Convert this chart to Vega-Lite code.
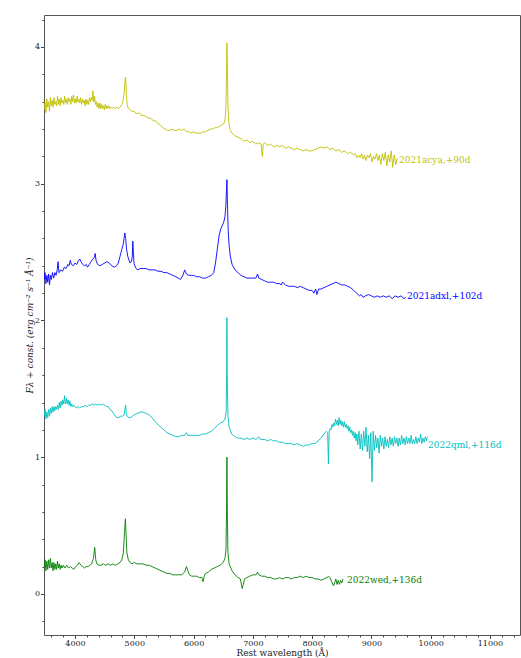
{
  "$schema": "https://vega.github.io/schema/vega-lite/v6.json",
  "autosize": {"type": "none"},
  "width": 476,
  "height": 620,
  "padding": {"left": 44, "top": 15, "right": 1, "bottom": 23},
  "background": "white",
  "config": {
    "view": {"stroke": "#555", "strokeWidth": 1},
    "axis": {"labelFont": "DejaVu Serif", "titleFont": "DejaVu Serif", "labelColor": "#222", "titleColor": "#222", "tickColor": "#444", "domain": false, "grid": false, "labelFontSize": 8, "titleFontSize": 9, "titleFontWeight": "normal"}
  },
  "datasets": {
    "labels": [
      {"s": "2021acya,+90d", "w": 9466, "f": 3.17},
      {"s": "2021adxl,+102d", "w": 9601, "f": 2.18},
      {"s": "2022qml,+116d", "w": 9955, "f": 1.09},
      {"s": "2022wed,+136d", "w": 8589, "f": 0.10}
    ],
    "spec": [
      {"s":"2021acya,+90d","w":3480,"f":3.54},{"s":"2021acya,+90d","w":3495,"f":3.60},{"s":"2021acya,+90d","w":3510,"f":3.52},{"s":"2021acya,+90d","w":3525,"f":3.62},{"s":"2021acya,+90d","w":3540,"f":3.56},{"s":"2021acya,+90d","w":3555,"f":3.60},{"s":"2021acya,+90d","w":3570,"f":3.53},{"s":"2021acya,+90d","w":3585,"f":3.63},{"s":"2021acya,+90d","w":3600,"f":3.57},{"s":"2021acya,+90d","w":3615,"f":3.61},{"s":"2021acya,+90d","w":3630,"f":3.56},{"s":"2021acya,+90d","w":3645,"f":3.63},{"s":"2021acya,+90d","w":3660,"f":3.58},{"s":"2021acya,+90d","w":3675,"f":3.60},{"s":"2021acya,+90d","w":3690,"f":3.57},{"s":"2021acya,+90d","w":3705,"f":3.64},{"s":"2021acya,+90d","w":3720,"f":3.58},{"s":"2021acya,+90d","w":3735,"f":3.62},{"s":"2021acya,+90d","w":3750,"f":3.57},{"s":"2021acya,+90d","w":3765,"f":3.63},{"s":"2021acya,+90d","w":3780,"f":3.59},{"s":"2021acya,+90d","w":3795,"f":3.61},{"s":"2021acya,+90d","w":3810,"f":3.58},{"s":"2021acya,+90d","w":3825,"f":3.64},{"s":"2021acya,+90d","w":3840,"f":3.59},{"s":"2021acya,+90d","w":3855,"f":3.62},{"s":"2021acya,+90d","w":3870,"f":3.58},{"s":"2021acya,+90d","w":3885,"f":3.63},{"s":"2021acya,+90d","w":3900,"f":3.60},{"s":"2021acya,+90d","w":3915,"f":3.62},{"s":"2021acya,+90d","w":3930,"f":3.58},{"s":"2021acya,+90d","w":3945,"f":3.64},{"s":"2021acya,+90d","w":3960,"f":3.60},{"s":"2021acya,+90d","w":3975,"f":3.65},{"s":"2021acya,+90d","w":3990,"f":3.59},{"s":"2021acya,+90d","w":4005,"f":3.62},{"s":"2021acya,+90d","w":4020,"f":3.59},{"s":"2021acya,+90d","w":4035,"f":3.64},{"s":"2021acya,+90d","w":4050,"f":3.60},{"s":"2021acya,+90d","w":4065,"f":3.62},{"s":"2021acya,+90d","w":4080,"f":3.59},{"s":"2021acya,+90d","w":4095,"f":3.63},{"s":"2021acya,+90d","w":4110,"f":3.58},{"s":"2021acya,+90d","w":4125,"f":3.62},{"s":"2021acya,+90d","w":4140,"f":3.59},{"s":"2021acya,+90d","w":4155,"f":3.61},{"s":"2021acya,+90d","w":4170,"f":3.57},{"s":"2021acya,+90d","w":4185,"f":3.62},{"s":"2021acya,+90d","w":4200,"f":3.58},{"s":"2021acya,+90d","w":4215,"f":3.61},{"s":"2021acya,+90d","w":4230,"f":3.58},{"s":"2021acya,+90d","w":4245,"f":3.63},{"s":"2021acya,+90d","w":4260,"f":3.60},{"s":"2021acya,+90d","w":4275,"f":3.63},{"s":"2021acya,+90d","w":4290,"f":3.61},{"s":"2021acya,+90d","w":4302,"f":3.68},{"s":"2021acya,+90d","w":4315,"f":3.60},{"s":"2021acya,+90d","w":4330,"f":3.64},{"s":"2021acya,+90d","w":4345,"f":3.58},{"s":"2021acya,+90d","w":4360,"f":3.60},{"s":"2021acya,+90d","w":4375,"f":3.56},{"s":"2021acya,+90d","w":4390,"f":3.59},{"s":"2021acya,+90d","w":4405,"f":3.55},{"s":"2021acya,+90d","w":4420,"f":3.59},{"s":"2021acya,+90d","w":4435,"f":3.55},{"s":"2021acya,+90d","w":4450,"f":3.58},{"s":"2021acya,+90d","w":4465,"f":3.55},{"s":"2021acya,+90d","w":4480,"f":3.57},{"s":"2021acya,+90d","w":4495,"f":3.54},{"s":"2021acya,+90d","w":4510,"f":3.58},{"s":"2021acya,+90d","w":4525,"f":3.55},{"s":"2021acya,+90d","w":4540,"f":3.57},{"s":"2021acya,+90d","w":4555,"f":3.55},{"s":"2021acya,+90d","w":4570,"f":3.57},{"s":"2021acya,+90d","w":4590,"f":3.55},{"s":"2021acya,+90d","w":4610,"f":3.56},{"s":"2021acya,+90d","w":4630,"f":3.55},{"s":"2021acya,+90d","w":4650,"f":3.56},{"s":"2021acya,+90d","w":4670,"f":3.55},{"s":"2021acya,+90d","w":4700,"f":3.56},{"s":"2021acya,+90d","w":4730,"f":3.55},{"s":"2021acya,+90d","w":4760,"f":3.56},{"s":"2021acya,+90d","w":4790,"f":3.58},{"s":"2021acya,+90d","w":4810,"f":3.61},{"s":"2021acya,+90d","w":4830,"f":3.66},{"s":"2021acya,+90d","w":4845,"f":3.76},{"s":"2021acya,+90d","w":4855,"f":3.78},{"s":"2021acya,+90d","w":4865,"f":3.66},{"s":"2021acya,+90d","w":4880,"f":3.58},{"s":"2021acya,+90d","w":4900,"f":3.55},{"s":"2021acya,+90d","w":4930,"f":3.54},{"s":"2021acya,+90d","w":4960,"f":3.53},{"s":"2021acya,+90d","w":5000,"f":3.53},{"s":"2021acya,+90d","w":5040,"f":3.51},{"s":"2021acya,+90d","w":5080,"f":3.52},{"s":"2021acya,+90d","w":5120,"f":3.50},{"s":"2021acya,+90d","w":5160,"f":3.50},{"s":"2021acya,+90d","w":5200,"f":3.49},{"s":"2021acya,+90d","w":5240,"f":3.48},{"s":"2021acya,+90d","w":5280,"f":3.48},{"s":"2021acya,+90d","w":5320,"f":3.46},{"s":"2021acya,+90d","w":5360,"f":3.46},{"s":"2021acya,+90d","w":5400,"f":3.44},{"s":"2021acya,+90d","w":5440,"f":3.43},{"s":"2021acya,+90d","w":5480,"f":3.41},{"s":"2021acya,+90d","w":5520,"f":3.40},{"s":"2021acya,+90d","w":5560,"f":3.39},{"s":"2021acya,+90d","w":5600,"f":3.39},{"s":"2021acya,+90d","w":5640,"f":3.40},{"s":"2021acya,+90d","w":5680,"f":3.39},{"s":"2021acya,+90d","w":5720,"f":3.39},{"s":"2021acya,+90d","w":5760,"f":3.40},{"s":"2021acya,+90d","w":5800,"f":3.39},{"s":"2021acya,+90d","w":5840,"f":3.40},{"s":"2021acya,+90d","w":5880,"f":3.38},{"s":"2021acya,+90d","w":5920,"f":3.38},{"s":"2021acya,+90d","w":5960,"f":3.37},{"s":"2021acya,+90d","w":6000,"f":3.38},{"s":"2021acya,+90d","w":6040,"f":3.37},{"s":"2021acya,+90d","w":6080,"f":3.37},{"s":"2021acya,+90d","w":6120,"f":3.37},{"s":"2021acya,+90d","w":6160,"f":3.38},{"s":"2021acya,+90d","w":6200,"f":3.38},{"s":"2021acya,+90d","w":6240,"f":3.39},{"s":"2021acya,+90d","w":6280,"f":3.40},{"s":"2021acya,+90d","w":6320,"f":3.40},{"s":"2021acya,+90d","w":6360,"f":3.41},{"s":"2021acya,+90d","w":6400,"f":3.41},{"s":"2021acya,+90d","w":6440,"f":3.42},{"s":"2021acya,+90d","w":6480,"f":3.43},{"s":"2021acya,+90d","w":6510,"f":3.44},{"s":"2021acya,+90d","w":6530,"f":3.46},{"s":"2021acya,+90d","w":6545,"f":3.55},{"s":"2021acya,+90d","w":6555,"f":3.80},{"s":"2021acya,+90d","w":6563,"f":4.03},{"s":"2021acya,+90d","w":6570,"f":3.85},{"s":"2021acya,+90d","w":6580,"f":3.58},{"s":"2021acya,+90d","w":6595,"f":3.45},{"s":"2021acya,+90d","w":6620,"f":3.39},{"s":"2021acya,+90d","w":6650,"f":3.37},{"s":"2021acya,+90d","w":6700,"f":3.35},{"s":"2021acya,+90d","w":6750,"f":3.34},{"s":"2021acya,+90d","w":6800,"f":3.33},{"s":"2021acya,+90d","w":6850,"f":3.31},{"s":"2021acya,+90d","w":6900,"f":3.32},{"s":"2021acya,+90d","w":6950,"f":3.30},{"s":"2021acya,+90d","w":7000,"f":3.31},{"s":"2021acya,+90d","w":7050,"f":3.29},{"s":"2021acya,+90d","w":7100,"f":3.30},{"s":"2021acya,+90d","w":7140,"f":3.29},{"s":"2021acya,+90d","w":7160,"f":3.20},{"s":"2021acya,+90d","w":7175,"f":3.29},{"s":"2021acya,+90d","w":7200,"f":3.30},{"s":"2021acya,+90d","w":7250,"f":3.28},{"s":"2021acya,+90d","w":7300,"f":3.29},{"s":"2021acya,+90d","w":7350,"f":3.27},{"s":"2021acya,+90d","w":7400,"f":3.28},{"s":"2021acya,+90d","w":7450,"f":3.27},{"s":"2021acya,+90d","w":7500,"f":3.28},{"s":"2021acya,+90d","w":7550,"f":3.26},{"s":"2021acya,+90d","w":7600,"f":3.27},{"s":"2021acya,+90d","w":7650,"f":3.26},{"s":"2021acya,+90d","w":7700,"f":3.25},{"s":"2021acya,+90d","w":7750,"f":3.26},{"s":"2021acya,+90d","w":7800,"f":3.25},{"s":"2021acya,+90d","w":7850,"f":3.24},{"s":"2021acya,+90d","w":7900,"f":3.25},{"s":"2021acya,+90d","w":7950,"f":3.24},{"s":"2021acya,+90d","w":8000,"f":3.24},{"s":"2021acya,+90d","w":8050,"f":3.25},{"s":"2021acya,+90d","w":8100,"f":3.26},{"s":"2021acya,+90d","w":8150,"f":3.27},{"s":"2021acya,+90d","w":8200,"f":3.26},{"s":"2021acya,+90d","w":8250,"f":3.27},{"s":"2021acya,+90d","w":8300,"f":3.25},{"s":"2021acya,+90d","w":8350,"f":3.26},{"s":"2021acya,+90d","w":8400,"f":3.24},{"s":"2021acya,+90d","w":8450,"f":3.25},{"s":"2021acya,+90d","w":8500,"f":3.23},{"s":"2021acya,+90d","w":8550,"f":3.24},{"s":"2021acya,+90d","w":8600,"f":3.22},{"s":"2021acya,+90d","w":8650,"f":3.23},{"s":"2021acya,+90d","w":8700,"f":3.21},{"s":"2021acya,+90d","w":8730,"f":3.22},{"s":"2021acya,+90d","w":8760,"f":3.19},{"s":"2021acya,+90d","w":8785,"f":3.21},{"s":"2021acya,+90d","w":8810,"f":3.19},{"s":"2021acya,+90d","w":8835,"f":3.22},{"s":"2021acya,+90d","w":8860,"f":3.18},{"s":"2021acya,+90d","w":8885,"f":3.21},{"s":"2021acya,+90d","w":8910,"f":3.17},{"s":"2021acya,+90d","w":8935,"f":3.21},{"s":"2021acya,+90d","w":8960,"f":3.19},{"s":"2021acya,+90d","w":8985,"f":3.22},{"s":"2021acya,+90d","w":9010,"f":3.16},{"s":"2021acya,+90d","w":9035,"f":3.20},{"s":"2021acya,+90d","w":9060,"f":3.18},{"s":"2021acya,+90d","w":9085,"f":3.22},{"s":"2021acya,+90d","w":9110,"f":3.17},{"s":"2021acya,+90d","w":9135,"f":3.21},{"s":"2021acya,+90d","w":9160,"f":3.14},{"s":"2021acya,+90d","w":9185,"f":3.22},{"s":"2021acya,+90d","w":9210,"f":3.17},{"s":"2021acya,+90d","w":9235,"f":3.23},{"s":"2021acya,+90d","w":9260,"f":3.13},{"s":"2021acya,+90d","w":9285,"f":3.21},{"s":"2021acya,+90d","w":9310,"f":3.16},{"s":"2021acya,+90d","w":9335,"f":3.24},{"s":"2021acya,+90d","w":9360,"f":3.12},{"s":"2021acya,+90d","w":9385,"f":3.21},{"s":"2021acya,+90d","w":9410,"f":3.14},{"s":"2021acya,+90d","w":9440,"f":3.19},

      {"s":"2021adxl,+102d","w":3480,"f":2.30},{"s":"2021adxl,+102d","w":3495,"f":2.35},{"s":"2021adxl,+102d","w":3510,"f":2.27},{"s":"2021adxl,+102d","w":3525,"f":2.33},{"s":"2021adxl,+102d","w":3540,"f":2.28},{"s":"2021adxl,+102d","w":3555,"f":2.34},{"s":"2021adxl,+102d","w":3570,"f":2.26},{"s":"2021adxl,+102d","w":3585,"f":2.33},{"s":"2021adxl,+102d","w":3600,"f":2.30},{"s":"2021adxl,+102d","w":3620,"f":2.35},{"s":"2021adxl,+102d","w":3640,"f":2.31},{"s":"2021adxl,+102d","w":3660,"f":2.35},{"s":"2021adxl,+102d","w":3680,"f":2.33},{"s":"2021adxl,+102d","w":3700,"f":2.37},{"s":"2021adxl,+102d","w":3715,"f":2.43},{"s":"2021adxl,+102d","w":3730,"f":2.35},{"s":"2021adxl,+102d","w":3760,"f":2.37},{"s":"2021adxl,+102d","w":3790,"f":2.36},{"s":"2021adxl,+102d","w":3820,"f":2.39},{"s":"2021adxl,+102d","w":3850,"f":2.38},{"s":"2021adxl,+102d","w":3880,"f":2.41},{"s":"2021adxl,+102d","w":3900,"f":2.40},{"s":"2021adxl,+102d","w":3920,"f":2.44},{"s":"2021adxl,+102d","w":3940,"f":2.41},{"s":"2021adxl,+102d","w":3970,"f":2.40},{"s":"2021adxl,+102d","w":4000,"f":2.42},{"s":"2021adxl,+102d","w":4030,"f":2.41},{"s":"2021adxl,+102d","w":4060,"f":2.44},{"s":"2021adxl,+102d","w":4080,"f":2.45},{"s":"2021adxl,+102d","w":4100,"f":2.43},{"s":"2021adxl,+102d","w":4130,"f":2.41},{"s":"2021adxl,+102d","w":4160,"f":2.40},{"s":"2021adxl,+102d","w":4190,"f":2.41},{"s":"2021adxl,+102d","w":4210,"f":2.39},{"s":"2021adxl,+102d","w":4240,"f":2.41},{"s":"2021adxl,+102d","w":4270,"f":2.43},{"s":"2021adxl,+102d","w":4300,"f":2.45},{"s":"2021adxl,+102d","w":4325,"f":2.46},{"s":"2021adxl,+102d","w":4340,"f":2.49},{"s":"2021adxl,+102d","w":4355,"f":2.44},{"s":"2021adxl,+102d","w":4380,"f":2.41},{"s":"2021adxl,+102d","w":4420,"f":2.40},{"s":"2021adxl,+102d","w":4460,"f":2.41},{"s":"2021adxl,+102d","w":4500,"f":2.42},{"s":"2021adxl,+102d","w":4540,"f":2.43},{"s":"2021adxl,+102d","w":4580,"f":2.42},{"s":"2021adxl,+102d","w":4620,"f":2.40},{"s":"2021adxl,+102d","w":4660,"f":2.39},{"s":"2021adxl,+102d","w":4700,"f":2.40},{"s":"2021adxl,+102d","w":4730,"f":2.42},{"s":"2021adxl,+102d","w":4760,"f":2.47},{"s":"2021adxl,+102d","w":4790,"f":2.52},{"s":"2021adxl,+102d","w":4815,"f":2.56},{"s":"2021adxl,+102d","w":4840,"f":2.64},{"s":"2021adxl,+102d","w":4855,"f":2.60},{"s":"2021adxl,+102d","w":4870,"f":2.52},{"s":"2021adxl,+102d","w":4890,"f":2.47},{"s":"2021adxl,+102d","w":4910,"f":2.44},{"s":"2021adxl,+102d","w":4930,"f":2.42},{"s":"2021adxl,+102d","w":4950,"f":2.43},{"s":"2021adxl,+102d","w":4965,"f":2.46},{"s":"2021adxl,+102d","w":4975,"f":2.58},{"s":"2021adxl,+102d","w":4985,"f":2.50},{"s":"2021adxl,+102d","w":4995,"f":2.42},{"s":"2021adxl,+102d","w":5010,"f":2.40},{"s":"2021adxl,+102d","w":5030,"f":2.38},{"s":"2021adxl,+102d","w":5060,"f":2.37},{"s":"2021adxl,+102d","w":5100,"f":2.38},{"s":"2021adxl,+102d","w":5150,"f":2.38},{"s":"2021adxl,+102d","w":5200,"f":2.38},{"s":"2021adxl,+102d","w":5250,"f":2.37},{"s":"2021adxl,+102d","w":5300,"f":2.37},{"s":"2021adxl,+102d","w":5350,"f":2.37},{"s":"2021adxl,+102d","w":5400,"f":2.36},{"s":"2021adxl,+102d","w":5450,"f":2.36},{"s":"2021adxl,+102d","w":5500,"f":2.35},{"s":"2021adxl,+102d","w":5550,"f":2.35},{"s":"2021adxl,+102d","w":5600,"f":2.34},{"s":"2021adxl,+102d","w":5650,"f":2.33},{"s":"2021adxl,+102d","w":5700,"f":2.32},{"s":"2021adxl,+102d","w":5740,"f":2.31},{"s":"2021adxl,+102d","w":5780,"f":2.30},{"s":"2021adxl,+102d","w":5820,"f":2.33},{"s":"2021adxl,+102d","w":5850,"f":2.37},{"s":"2021adxl,+102d","w":5880,"f":2.34},{"s":"2021adxl,+102d","w":5920,"f":2.33},{"s":"2021adxl,+102d","w":5960,"f":2.33},{"s":"2021adxl,+102d","w":6000,"f":2.33},{"s":"2021adxl,+102d","w":6050,"f":2.32},{"s":"2021adxl,+102d","w":6100,"f":2.32},{"s":"2021adxl,+102d","w":6150,"f":2.31},{"s":"2021adxl,+102d","w":6200,"f":2.31},{"s":"2021adxl,+102d","w":6250,"f":2.32},{"s":"2021adxl,+102d","w":6300,"f":2.33},{"s":"2021adxl,+102d","w":6340,"f":2.35},{"s":"2021adxl,+102d","w":6370,"f":2.42},{"s":"2021adxl,+102d","w":6400,"f":2.52},{"s":"2021adxl,+102d","w":6430,"f":2.62},{"s":"2021adxl,+102d","w":6460,"f":2.67},{"s":"2021adxl,+102d","w":6490,"f":2.70},{"s":"2021adxl,+102d","w":6510,"f":2.72},{"s":"2021adxl,+102d","w":6530,"f":2.76},{"s":"2021adxl,+102d","w":6545,"f":2.84},{"s":"2021adxl,+102d","w":6555,"f":2.95},{"s":"2021adxl,+102d","w":6563,"f":3.03},{"s":"2021adxl,+102d","w":6572,"f":2.85},{"s":"2021adxl,+102d","w":6585,"f":2.65},{"s":"2021adxl,+102d","w":6600,"f":2.55},{"s":"2021adxl,+102d","w":6620,"f":2.47},{"s":"2021adxl,+102d","w":6650,"f":2.41},{"s":"2021adxl,+102d","w":6700,"f":2.37},{"s":"2021adxl,+102d","w":6750,"f":2.35},{"s":"2021adxl,+102d","w":6800,"f":2.33},{"s":"2021adxl,+102d","w":6850,"f":2.32},{"s":"2021adxl,+102d","w":6900,"f":2.31},{"s":"2021adxl,+102d","w":6950,"f":2.31},{"s":"2021adxl,+102d","w":7000,"f":2.31},{"s":"2021adxl,+102d","w":7050,"f":2.31},{"s":"2021adxl,+102d","w":7080,"f":2.34},{"s":"2021adxl,+102d","w":7100,"f":2.31},{"s":"2021adxl,+102d","w":7150,"f":2.30},{"s":"2021adxl,+102d","w":7200,"f":2.29},{"s":"2021adxl,+102d","w":7250,"f":2.28},{"s":"2021adxl,+102d","w":7300,"f":2.28},{"s":"2021adxl,+102d","w":7350,"f":2.28},{"s":"2021adxl,+102d","w":7400,"f":2.27},{"s":"2021adxl,+102d","w":7450,"f":2.27},{"s":"2021adxl,+102d","w":7480,"f":2.26},{"s":"2021adxl,+102d","w":7500,"f":2.28},{"s":"2021adxl,+102d","w":7550,"f":2.26},{"s":"2021adxl,+102d","w":7600,"f":2.25},{"s":"2021adxl,+102d","w":7650,"f":2.25},{"s":"2021adxl,+102d","w":7700,"f":2.25},{"s":"2021adxl,+102d","w":7750,"f":2.24},{"s":"2021adxl,+102d","w":7800,"f":2.25},{"s":"2021adxl,+102d","w":7850,"f":2.24},{"s":"2021adxl,+102d","w":7900,"f":2.23},{"s":"2021adxl,+102d","w":7950,"f":2.22},{"s":"2021adxl,+102d","w":8000,"f":2.22},{"s":"2021adxl,+102d","w":8030,"f":2.20},{"s":"2021adxl,+102d","w":8060,"f":2.23},{"s":"2021adxl,+102d","w":8080,"f":2.19},{"s":"2021adxl,+102d","w":8110,"f":2.23},{"s":"2021adxl,+102d","w":8150,"f":2.23},{"s":"2021adxl,+102d","w":8200,"f":2.24},{"s":"2021adxl,+102d","w":8250,"f":2.25},{"s":"2021adxl,+102d","w":8300,"f":2.26},{"s":"2021adxl,+102d","w":8350,"f":2.27},{"s":"2021adxl,+102d","w":8400,"f":2.28},{"s":"2021adxl,+102d","w":8450,"f":2.27},{"s":"2021adxl,+102d","w":8500,"f":2.26},{"s":"2021adxl,+102d","w":8550,"f":2.26},{"s":"2021adxl,+102d","w":8600,"f":2.25},{"s":"2021adxl,+102d","w":8650,"f":2.24},{"s":"2021adxl,+102d","w":8700,"f":2.22},{"s":"2021adxl,+102d","w":8750,"f":2.20},{"s":"2021adxl,+102d","w":8800,"f":2.18},{"s":"2021adxl,+102d","w":8830,"f":2.19},{"s":"2021adxl,+102d","w":8860,"f":2.17},{"s":"2021adxl,+102d","w":8900,"f":2.18},{"s":"2021adxl,+102d","w":8950,"f":2.19},{"s":"2021adxl,+102d","w":9000,"f":2.18},{"s":"2021adxl,+102d","w":9050,"f":2.17},{"s":"2021adxl,+102d","w":9100,"f":2.18},{"s":"2021adxl,+102d","w":9150,"f":2.17},{"s":"2021adxl,+102d","w":9200,"f":2.18},{"s":"2021adxl,+102d","w":9250,"f":2.17},{"s":"2021adxl,+102d","w":9300,"f":2.18},{"s":"2021adxl,+102d","w":9350,"f":2.16},{"s":"2021adxl,+102d","w":9400,"f":2.18},{"s":"2021adxl,+102d","w":9450,"f":2.17},{"s":"2021adxl,+102d","w":9500,"f":2.18},{"s":"2021adxl,+102d","w":9550,"f":2.16},{"s":"2021adxl,+102d","w":9580,"f":2.17},

      {"s":"2022qml,+116d","w":3480,"f":1.30},{"s":"2022qml,+116d","w":3495,"f":1.35},{"s":"2022qml,+116d","w":3510,"f":1.28},{"s":"2022qml,+116d","w":3525,"f":1.33},{"s":"2022qml,+116d","w":3540,"f":1.29},{"s":"2022qml,+116d","w":3555,"f":1.35},{"s":"2022qml,+116d","w":3570,"f":1.30},{"s":"2022qml,+116d","w":3585,"f":1.36},{"s":"2022qml,+116d","w":3600,"f":1.32},{"s":"2022qml,+116d","w":3615,"f":1.37},{"s":"2022qml,+116d","w":3630,"f":1.33},{"s":"2022qml,+116d","w":3645,"f":1.37},{"s":"2022qml,+116d","w":3660,"f":1.34},{"s":"2022qml,+116d","w":3675,"f":1.37},{"s":"2022qml,+116d","w":3690,"f":1.35},{"s":"2022qml,+116d","w":3705,"f":1.38},{"s":"2022qml,+116d","w":3720,"f":1.35},{"s":"2022qml,+116d","w":3735,"f":1.40},{"s":"2022qml,+116d","w":3750,"f":1.36},{"s":"2022qml,+116d","w":3765,"f":1.41},{"s":"2022qml,+116d","w":3780,"f":1.38},{"s":"2022qml,+116d","w":3795,"f":1.42},{"s":"2022qml,+116d","w":3810,"f":1.39},{"s":"2022qml,+116d","w":3825,"f":1.45},{"s":"2022qml,+116d","w":3840,"f":1.39},{"s":"2022qml,+116d","w":3855,"f":1.43},{"s":"2022qml,+116d","w":3870,"f":1.39},{"s":"2022qml,+116d","w":3885,"f":1.42},{"s":"2022qml,+116d","w":3900,"f":1.38},{"s":"2022qml,+116d","w":3915,"f":1.41},{"s":"2022qml,+116d","w":3930,"f":1.37},{"s":"2022qml,+116d","w":3945,"f":1.39},{"s":"2022qml,+116d","w":3960,"f":1.37},{"s":"2022qml,+116d","w":3990,"f":1.38},{"s":"2022qml,+116d","w":4020,"f":1.36},{"s":"2022qml,+116d","w":4050,"f":1.37},{"s":"2022qml,+116d","w":4080,"f":1.36},{"s":"2022qml,+116d","w":4110,"f":1.37},{"s":"2022qml,+116d","w":4140,"f":1.37},{"s":"2022qml,+116d","w":4170,"f":1.38},{"s":"2022qml,+116d","w":4200,"f":1.37},{"s":"2022qml,+116d","w":4230,"f":1.38},{"s":"2022qml,+116d","w":4260,"f":1.38},{"s":"2022qml,+116d","w":4290,"f":1.39},{"s":"2022qml,+116d","w":4320,"f":1.38},{"s":"2022qml,+116d","w":4350,"f":1.39},{"s":"2022qml,+116d","w":4380,"f":1.38},{"s":"2022qml,+116d","w":4410,"f":1.39},{"s":"2022qml,+116d","w":4440,"f":1.38},{"s":"2022qml,+116d","w":4470,"f":1.39},{"s":"2022qml,+116d","w":4500,"f":1.38},{"s":"2022qml,+116d","w":4530,"f":1.37},{"s":"2022qml,+116d","w":4560,"f":1.37},{"s":"2022qml,+116d","w":4590,"f":1.35},{"s":"2022qml,+116d","w":4620,"f":1.34},{"s":"2022qml,+116d","w":4650,"f":1.32},{"s":"2022qml,+116d","w":4680,"f":1.30},{"s":"2022qml,+116d","w":4710,"f":1.29},{"s":"2022qml,+116d","w":4740,"f":1.29},{"s":"2022qml,+116d","w":4770,"f":1.30},{"s":"2022qml,+116d","w":4800,"f":1.30},{"s":"2022qml,+116d","w":4830,"f":1.31},{"s":"2022qml,+116d","w":4845,"f":1.36},{"s":"2022qml,+116d","w":4855,"f":1.38},{"s":"2022qml,+116d","w":4865,"f":1.32},{"s":"2022qml,+116d","w":4880,"f":1.30},{"s":"2022qml,+116d","w":4910,"f":1.29},{"s":"2022qml,+116d","w":4940,"f":1.29},{"s":"2022qml,+116d","w":4970,"f":1.30},{"s":"2022qml,+116d","w":5000,"f":1.31},{"s":"2022qml,+116d","w":5050,"f":1.32},{"s":"2022qml,+116d","w":5100,"f":1.33},{"s":"2022qml,+116d","w":5150,"f":1.33},{"s":"2022qml,+116d","w":5200,"f":1.32},{"s":"2022qml,+116d","w":5250,"f":1.31},{"s":"2022qml,+116d","w":5300,"f":1.29},{"s":"2022qml,+116d","w":5350,"f":1.26},{"s":"2022qml,+116d","w":5400,"f":1.24},{"s":"2022qml,+116d","w":5450,"f":1.22},{"s":"2022qml,+116d","w":5500,"f":1.20},{"s":"2022qml,+116d","w":5550,"f":1.18},{"s":"2022qml,+116d","w":5600,"f":1.17},{"s":"2022qml,+116d","w":5650,"f":1.16},{"s":"2022qml,+116d","w":5700,"f":1.15},{"s":"2022qml,+116d","w":5750,"f":1.15},{"s":"2022qml,+116d","w":5800,"f":1.16},{"s":"2022qml,+116d","w":5850,"f":1.16},{"s":"2022qml,+116d","w":5880,"f":1.18},{"s":"2022qml,+116d","w":5900,"f":1.16},{"s":"2022qml,+116d","w":5950,"f":1.16},{"s":"2022qml,+116d","w":6000,"f":1.16},{"s":"2022qml,+116d","w":6050,"f":1.16},{"s":"2022qml,+116d","w":6100,"f":1.16},{"s":"2022qml,+116d","w":6150,"f":1.17},{"s":"2022qml,+116d","w":6200,"f":1.17},{"s":"2022qml,+116d","w":6250,"f":1.18},{"s":"2022qml,+116d","w":6300,"f":1.19},{"s":"2022qml,+116d","w":6350,"f":1.21},{"s":"2022qml,+116d","w":6400,"f":1.23},{"s":"2022qml,+116d","w":6450,"f":1.25},{"s":"2022qml,+116d","w":6500,"f":1.26},{"s":"2022qml,+116d","w":6530,"f":1.28},{"s":"2022qml,+116d","w":6550,"f":1.33},{"s":"2022qml,+116d","w":6558,"f":1.60},{"s":"2022qml,+116d","w":6563,"f":2.02},{"s":"2022qml,+116d","w":6568,"f":1.60},{"s":"2022qml,+116d","w":6580,"f":1.30},{"s":"2022qml,+116d","w":6600,"f":1.22},{"s":"2022qml,+116d","w":6640,"f":1.17},{"s":"2022qml,+116d","w":6700,"f":1.15},{"s":"2022qml,+116d","w":6750,"f":1.14},{"s":"2022qml,+116d","w":6800,"f":1.14},{"s":"2022qml,+116d","w":6850,"f":1.13},{"s":"2022qml,+116d","w":6900,"f":1.14},{"s":"2022qml,+116d","w":6950,"f":1.13},{"s":"2022qml,+116d","w":7000,"f":1.14},{"s":"2022qml,+116d","w":7050,"f":1.13},{"s":"2022qml,+116d","w":7100,"f":1.15},{"s":"2022qml,+116d","w":7130,"f":1.13},{"s":"2022qml,+116d","w":7200,"f":1.13},{"s":"2022qml,+116d","w":7250,"f":1.12},{"s":"2022qml,+116d","w":7300,"f":1.13},{"s":"2022qml,+116d","w":7350,"f":1.12},{"s":"2022qml,+116d","w":7400,"f":1.12},{"s":"2022qml,+116d","w":7450,"f":1.11},{"s":"2022qml,+116d","w":7500,"f":1.11},{"s":"2022qml,+116d","w":7550,"f":1.10},{"s":"2022qml,+116d","w":7600,"f":1.10},{"s":"2022qml,+116d","w":7650,"f":1.10},{"s":"2022qml,+116d","w":7700,"f":1.09},{"s":"2022qml,+116d","w":7750,"f":1.10},{"s":"2022qml,+116d","w":7800,"f":1.09},{"s":"2022qml,+116d","w":7850,"f":1.08},{"s":"2022qml,+116d","w":7900,"f":1.09},{"s":"2022qml,+116d","w":7950,"f":1.09},{"s":"2022qml,+116d","w":8000,"f":1.10},{"s":"2022qml,+116d","w":8050,"f":1.10},{"s":"2022qml,+116d","w":8100,"f":1.12},{"s":"2022qml,+116d","w":8150,"f":1.14},{"s":"2022qml,+116d","w":8200,"f":1.17},{"s":"2022qml,+116d","w":8240,"f":1.19},{"s":"2022qml,+116d","w":8262,"f":1.18},{"s":"2022qml,+116d","w":8275,"f":0.95},{"s":"2022qml,+116d","w":8288,"f":1.19},{"s":"2022qml,+116d","w":8305,"f":1.21},{"s":"2022qml,+116d","w":8320,"f":1.20},{"s":"2022qml,+116d","w":8335,"f":1.24},{"s":"2022qml,+116d","w":8350,"f":1.22},{"s":"2022qml,+116d","w":8365,"f":1.25},{"s":"2022qml,+116d","w":8380,"f":1.23},{"s":"2022qml,+116d","w":8395,"f":1.28},{"s":"2022qml,+116d","w":8410,"f":1.24},{"s":"2022qml,+116d","w":8425,"f":1.27},{"s":"2022qml,+116d","w":8440,"f":1.23},{"s":"2022qml,+116d","w":8455,"f":1.29},{"s":"2022qml,+116d","w":8470,"f":1.24},{"s":"2022qml,+116d","w":8485,"f":1.27},{"s":"2022qml,+116d","w":8500,"f":1.23},{"s":"2022qml,+116d","w":8515,"f":1.26},{"s":"2022qml,+116d","w":8530,"f":1.22},{"s":"2022qml,+116d","w":8545,"f":1.26},{"s":"2022qml,+116d","w":8560,"f":1.22},{"s":"2022qml,+116d","w":8575,"f":1.24},{"s":"2022qml,+116d","w":8590,"f":1.21},{"s":"2022qml,+116d","w":8605,"f":1.23},{"s":"2022qml,+116d","w":8620,"f":1.19},{"s":"2022qml,+116d","w":8635,"f":1.22},{"s":"2022qml,+116d","w":8650,"f":1.18},{"s":"2022qml,+116d","w":8665,"f":1.20},{"s":"2022qml,+116d","w":8680,"f":1.16},{"s":"2022qml,+116d","w":8695,"f":1.19},{"s":"2022qml,+116d","w":8710,"f":1.14},{"s":"2022qml,+116d","w":8725,"f":1.18},{"s":"2022qml,+116d","w":8740,"f":1.12},{"s":"2022qml,+116d","w":8755,"f":1.17},{"s":"2022qml,+116d","w":8770,"f":1.09},{"s":"2022qml,+116d","w":8790,"f":1.19},{"s":"2022qml,+116d","w":8810,"f":1.06},{"s":"2022qml,+116d","w":8830,"f":1.17},{"s":"2022qml,+116d","w":8850,"f":1.05},{"s":"2022qml,+116d","w":8870,"f":1.19},{"s":"2022qml,+116d","w":8890,"f":1.08},{"s":"2022qml,+116d","w":8910,"f":1.22},{"s":"2022qml,+116d","w":8930,"f":1.04},{"s":"2022qml,+116d","w":8950,"f":1.16},{"s":"2022qml,+116d","w":8970,"f":0.99},{"s":"2022qml,+116d","w":8990,"f":1.18},{"s":"2022qml,+116d","w":9010,"f":0.82},{"s":"2022qml,+116d","w":9030,"f":1.19},{"s":"2022qml,+116d","w":9050,"f":1.05},{"s":"2022qml,+116d","w":9070,"f":1.16},{"s":"2022qml,+116d","w":9090,"f":1.07},{"s":"2022qml,+116d","w":9110,"f":1.14},{"s":"2022qml,+116d","w":9130,"f":1.03},{"s":"2022qml,+116d","w":9150,"f":1.16},{"s":"2022qml,+116d","w":9170,"f":1.08},{"s":"2022qml,+116d","w":9190,"f":1.14},{"s":"2022qml,+116d","w":9210,"f":1.06},{"s":"2022qml,+116d","w":9230,"f":1.15},{"s":"2022qml,+116d","w":9250,"f":1.08},{"s":"2022qml,+116d","w":9270,"f":1.13},{"s":"2022qml,+116d","w":9290,"f":1.07},{"s":"2022qml,+116d","w":9310,"f":1.15},{"s":"2022qml,+116d","w":9330,"f":1.09},{"s":"2022qml,+116d","w":9350,"f":1.14},{"s":"2022qml,+116d","w":9370,"f":1.08},{"s":"2022qml,+116d","w":9390,"f":1.15},{"s":"2022qml,+116d","w":9410,"f":1.10},{"s":"2022qml,+116d","w":9430,"f":1.14},{"s":"2022qml,+116d","w":9450,"f":1.08},{"s":"2022qml,+116d","w":9470,"f":1.14},{"s":"2022qml,+116d","w":9490,"f":1.09},{"s":"2022qml,+116d","w":9510,"f":1.16},{"s":"2022qml,+116d","w":9530,"f":1.10},{"s":"2022qml,+116d","w":9550,"f":1.14},{"s":"2022qml,+116d","w":9570,"f":1.09},{"s":"2022qml,+116d","w":9590,"f":1.15},{"s":"2022qml,+116d","w":9610,"f":1.10},{"s":"2022qml,+116d","w":9630,"f":1.14},{"s":"2022qml,+116d","w":9650,"f":1.10},{"s":"2022qml,+116d","w":9670,"f":1.16},{"s":"2022qml,+116d","w":9690,"f":1.10},{"s":"2022qml,+116d","w":9710,"f":1.13},{"s":"2022qml,+116d","w":9730,"f":1.10},{"s":"2022qml,+116d","w":9750,"f":1.15},{"s":"2022qml,+116d","w":9770,"f":1.10},{"s":"2022qml,+116d","w":9790,"f":1.14},{"s":"2022qml,+116d","w":9810,"f":1.11},{"s":"2022qml,+116d","w":9830,"f":1.17},{"s":"2022qml,+116d","w":9850,"f":1.10},{"s":"2022qml,+116d","w":9870,"f":1.14},{"s":"2022qml,+116d","w":9890,"f":1.11},{"s":"2022qml,+116d","w":9910,"f":1.15},{"s":"2022qml,+116d","w":9930,"f":1.12},{"s":"2022qml,+116d","w":9945,"f":1.15},

      {"s":"2022wed,+136d","w":3480,"f":0.20},{"s":"2022wed,+136d","w":3495,"f":0.25},{"s":"2022wed,+136d","w":3510,"f":0.17},{"s":"2022wed,+136d","w":3525,"f":0.24},{"s":"2022wed,+136d","w":3540,"f":0.18},{"s":"2022wed,+136d","w":3555,"f":0.25},{"s":"2022wed,+136d","w":3570,"f":0.19},{"s":"2022wed,+136d","w":3585,"f":0.26},{"s":"2022wed,+136d","w":3600,"f":0.19},{"s":"2022wed,+136d","w":3615,"f":0.23},{"s":"2022wed,+136d","w":3630,"f":0.17},{"s":"2022wed,+136d","w":3645,"f":0.23},{"s":"2022wed,+136d","w":3660,"f":0.18},{"s":"2022wed,+136d","w":3675,"f":0.22},{"s":"2022wed,+136d","w":3690,"f":0.18},{"s":"2022wed,+136d","w":3705,"f":0.24},{"s":"2022wed,+136d","w":3720,"f":0.19},{"s":"2022wed,+136d","w":3735,"f":0.22},{"s":"2022wed,+136d","w":3750,"f":0.18},{"s":"2022wed,+136d","w":3765,"f":0.21},{"s":"2022wed,+136d","w":3780,"f":0.19},{"s":"2022wed,+136d","w":3800,"f":0.21},{"s":"2022wed,+136d","w":3830,"f":0.19},{"s":"2022wed,+136d","w":3860,"f":0.21},{"s":"2022wed,+136d","w":3890,"f":0.19},{"s":"2022wed,+136d","w":3920,"f":0.20},{"s":"2022wed,+136d","w":3950,"f":0.19},{"s":"2022wed,+136d","w":3980,"f":0.18},{"s":"2022wed,+136d","w":4010,"f":0.20},{"s":"2022wed,+136d","w":4040,"f":0.21},{"s":"2022wed,+136d","w":4070,"f":0.23},{"s":"2022wed,+136d","w":4100,"f":0.21},{"s":"2022wed,+136d","w":4130,"f":0.20},{"s":"2022wed,+136d","w":4160,"f":0.19},{"s":"2022wed,+136d","w":4190,"f":0.20},{"s":"2022wed,+136d","w":4220,"f":0.20},{"s":"2022wed,+136d","w":4250,"f":0.21},{"s":"2022wed,+136d","w":4280,"f":0.22},{"s":"2022wed,+136d","w":4310,"f":0.26},{"s":"2022wed,+136d","w":4333,"f":0.34},{"s":"2022wed,+136d","w":4350,"f":0.25},{"s":"2022wed,+136d","w":4370,"f":0.22},{"s":"2022wed,+136d","w":4400,"f":0.21},{"s":"2022wed,+136d","w":4440,"f":0.21},{"s":"2022wed,+136d","w":4480,"f":0.22},{"s":"2022wed,+136d","w":4520,"f":0.21},{"s":"2022wed,+136d","w":4560,"f":0.22},{"s":"2022wed,+136d","w":4600,"f":0.21},{"s":"2022wed,+136d","w":4640,"f":0.22},{"s":"2022wed,+136d","w":4680,"f":0.21},{"s":"2022wed,+136d","w":4720,"f":0.22},{"s":"2022wed,+136d","w":4760,"f":0.23},{"s":"2022wed,+136d","w":4790,"f":0.25},{"s":"2022wed,+136d","w":4815,"f":0.30},{"s":"2022wed,+136d","w":4835,"f":0.45},{"s":"2022wed,+136d","w":4850,"f":0.55},{"s":"2022wed,+136d","w":4860,"f":0.45},{"s":"2022wed,+136d","w":4875,"f":0.30},{"s":"2022wed,+136d","w":4900,"f":0.25},{"s":"2022wed,+136d","w":4930,"f":0.23},{"s":"2022wed,+136d","w":4960,"f":0.22},{"s":"2022wed,+136d","w":5000,"f":0.23},{"s":"2022wed,+136d","w":5050,"f":0.22},{"s":"2022wed,+136d","w":5100,"f":0.22},{"s":"2022wed,+136d","w":5150,"f":0.22},{"s":"2022wed,+136d","w":5200,"f":0.21},{"s":"2022wed,+136d","w":5250,"f":0.21},{"s":"2022wed,+136d","w":5300,"f":0.20},{"s":"2022wed,+136d","w":5350,"f":0.19},{"s":"2022wed,+136d","w":5400,"f":0.18},{"s":"2022wed,+136d","w":5450,"f":0.17},{"s":"2022wed,+136d","w":5500,"f":0.16},{"s":"2022wed,+136d","w":5550,"f":0.15},{"s":"2022wed,+136d","w":5600,"f":0.15},{"s":"2022wed,+136d","w":5650,"f":0.14},{"s":"2022wed,+136d","w":5700,"f":0.14},{"s":"2022wed,+136d","w":5750,"f":0.14},{"s":"2022wed,+136d","w":5800,"f":0.14},{"s":"2022wed,+136d","w":5850,"f":0.16},{"s":"2022wed,+136d","w":5880,"f":0.20},{"s":"2022wed,+136d","w":5905,"f":0.17},{"s":"2022wed,+136d","w":5930,"f":0.14},{"s":"2022wed,+136d","w":5970,"f":0.13},{"s":"2022wed,+136d","w":6000,"f":0.13},{"s":"2022wed,+136d","w":6050,"f":0.13},{"s":"2022wed,+136d","w":6100,"f":0.12},{"s":"2022wed,+136d","w":6140,"f":0.12},{"s":"2022wed,+136d","w":6160,"f":0.09},{"s":"2022wed,+136d","w":6180,"f":0.13},{"s":"2022wed,+136d","w":6200,"f":0.15},{"s":"2022wed,+136d","w":6250,"f":0.16},{"s":"2022wed,+136d","w":6300,"f":0.18},{"s":"2022wed,+136d","w":6350,"f":0.19},{"s":"2022wed,+136d","w":6400,"f":0.20},{"s":"2022wed,+136d","w":6450,"f":0.21},{"s":"2022wed,+136d","w":6500,"f":0.23},{"s":"2022wed,+136d","w":6530,"f":0.26},{"s":"2022wed,+136d","w":6548,"f":0.33},{"s":"2022wed,+136d","w":6556,"f":0.60},{"s":"2022wed,+136d","w":6563,"f":1.00},{"s":"2022wed,+136d","w":6570,"f":0.60},{"s":"2022wed,+136d","w":6580,"f":0.30},{"s":"2022wed,+136d","w":6600,"f":0.22},{"s":"2022wed,+136d","w":6650,"f":0.17},{"s":"2022wed,+136d","w":6700,"f":0.14},{"s":"2022wed,+136d","w":6750,"f":0.12},{"s":"2022wed,+136d","w":6790,"f":0.11},{"s":"2022wed,+136d","w":6820,"f":0.04},{"s":"2022wed,+136d","w":6840,"f":0.07},{"s":"2022wed,+136d","w":6860,"f":0.11},{"s":"2022wed,+136d","w":6900,"f":0.12},{"s":"2022wed,+136d","w":6950,"f":0.13},{"s":"2022wed,+136d","w":7000,"f":0.14},{"s":"2022wed,+136d","w":7050,"f":0.14},{"s":"2022wed,+136d","w":7080,"f":0.16},{"s":"2022wed,+136d","w":7100,"f":0.14},{"s":"2022wed,+136d","w":7150,"f":0.13},{"s":"2022wed,+136d","w":7200,"f":0.13},{"s":"2022wed,+136d","w":7250,"f":0.12},{"s":"2022wed,+136d","w":7300,"f":0.12},{"s":"2022wed,+136d","w":7350,"f":0.11},{"s":"2022wed,+136d","w":7400,"f":0.11},{"s":"2022wed,+136d","w":7450,"f":0.12},{"s":"2022wed,+136d","w":7500,"f":0.11},{"s":"2022wed,+136d","w":7550,"f":0.12},{"s":"2022wed,+136d","w":7600,"f":0.12},{"s":"2022wed,+136d","w":7650,"f":0.11},{"s":"2022wed,+136d","w":7700,"f":0.12},{"s":"2022wed,+136d","w":7750,"f":0.12},{"s":"2022wed,+136d","w":7800,"f":0.13},{"s":"2022wed,+136d","w":7850,"f":0.12},{"s":"2022wed,+136d","w":7900,"f":0.13},{"s":"2022wed,+136d","w":7950,"f":0.12},{"s":"2022wed,+136d","w":8000,"f":0.12},{"s":"2022wed,+136d","w":8050,"f":0.11},{"s":"2022wed,+136d","w":8100,"f":0.11},{"s":"2022wed,+136d","w":8150,"f":0.10},{"s":"2022wed,+136d","w":8200,"f":0.11},{"s":"2022wed,+136d","w":8250,"f":0.12},{"s":"2022wed,+136d","w":8280,"f":0.13},{"s":"2022wed,+136d","w":8300,"f":0.12},{"s":"2022wed,+136d","w":8330,"f":0.09},{"s":"2022wed,+136d","w":8360,"f":0.06},{"s":"2022wed,+136d","w":8380,"f":0.08},{"s":"2022wed,+136d","w":8400,"f":0.11},{"s":"2022wed,+136d","w":8420,"f":0.07},{"s":"2022wed,+136d","w":8440,"f":0.10},{"s":"2022wed,+136d","w":8460,"f":0.07},{"s":"2022wed,+136d","w":8480,"f":0.10},{"s":"2022wed,+136d","w":8500,"f":0.08},{"s":"2022wed,+136d","w":8520,"f":0.11}
    ]
  },
  "encoding": {
    "x": {"field": "w", "type": "quantitative",
      "scale": {"domain": [3477, 11507], "nice": false, "zero": false},
      "axis": {"title": "Rest wavelength (Å)",
        "values": [3600,3800,4000,4200,4400,4600,4800,5000,5200,5400,5600,5800,6000,6200,6400,6600,6800,7000,7200,7400,7600,7800,8000,8200,8400,8600,8800,9000,9200,9400,9600,9800,10000,10200,10400,10600,10800,11000,11200,11400],
        "labelExpr": "datum.value % 1000 == 0 ? format(datum.value, 'd') : ''",
        "tickSize": {"condition": {"test": "datum.value % 1000 == 0", "value": 3.5}, "value": 2},
        "labelPadding": 1, "titlePadding": 1, "labelFlush": false, "labelOverlap": false}},
    "y": {"field": "f", "type": "quantitative",
      "scale": {"domain": [-0.3, 4.234], "nice": false, "zero": false},
      "axis": {"title": "Fλ + const. (erg cm⁻² s⁻¹ Å⁻¹)", "titleFontStyle": "italic",
        "values": [-0.2,0,0.2,0.4,0.6,0.8,1,1.2,1.4,1.6,1.8,2,2.2,2.4,2.6,2.8,3,3.2,3.4,3.6,3.8,4,4.2],
        "labelExpr": "abs(datum.value - round(datum.value)) < 0.01 ? format(datum.value, 'd') : ''",
        "tickSize": {"condition": {"test": "abs(datum.value - round(datum.value)) < 0.01", "value": 3.5}, "value": 2},
        "labelPadding": 1, "titlePadding": 0, "labelFlush": false, "labelOverlap": false}},
    "color": {"field": "s", "type": "nominal", "legend": null,
      "scale": {"domain": ["2021acya,+90d", "2021adxl,+102d", "2022qml,+116d", "2022wed,+136d"], "range": ["#bfbf00", "#0000ff", "#00bfbf", "#008000"]}}
  },
  "layer": [
    {"data": {"name": "spec"}, "mark": {"type": "line", "strokeWidth": 0.9, "clip": true}, "encoding": {"detail": {"field": "s"}}},
    {"data": {"name": "labels"}, "mark": {"type": "text", "align": "left", "baseline": "middle", "font": "DejaVu Serif", "fontSize": 9}, "encoding": {"text": {"field": "s"}}}
  ]
}
